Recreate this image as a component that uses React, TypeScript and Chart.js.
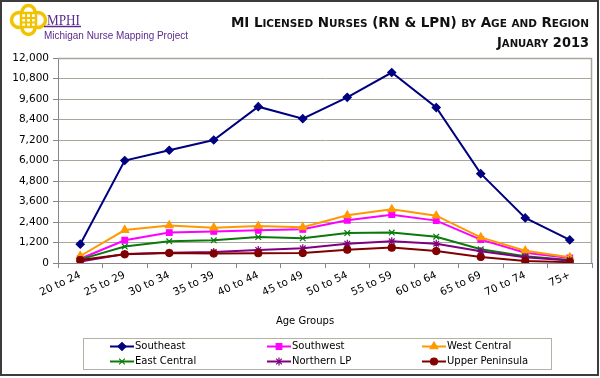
import React, { useEffect, useRef } from 'react';
import { Chart, registerables } from 'chart.js';
import { drawPoint } from 'chart.js/helpers';

Chart.register(...registerables);

const categories = ['20 to 24', '25 to 29', '30 to 34', '35 to 39', '40 to 44', '45 to 49', '50 to 54', '55 to 59', '60 to 64', '65 to 69', '70 to 74', '75+'];
const southeast = [1100, 6000, 6600, 7200, 9150, 8450, 9700, 11150, 9100, 5230, 2640, 1350];
const southwest = [250, 1330, 1780, 1850, 1910, 1970, 2500, 2830, 2480, 1370, 600, 290];
const westCentral = [410, 1930, 2200, 2070, 2160, 2090, 2790, 3140, 2770, 1500, 720, 330];
const eastCentral = [210, 960, 1270, 1330, 1520, 1450, 1750, 1780, 1540, 800, 390, 180];
const northernLP = [90, 530, 600, 650, 760, 860, 1130, 1270, 1130, 690, 330, 140];
const upperPeninsula = [170, 510, 580, 550, 570, 580, 780, 900, 700, 350, 120, 50];
const yTicks = [0, 1200, 2400, 3600, 4800, 6000, 7200, 8400, 9600, 10800, 12000];

const seriesNames = ['Southeast', 'Southwest', 'West Central', 'East Central', 'Northern LP', 'Upper Peninsula'];
const seriesData = [southeast, southwest, westCentral, eastCentral, northernLP, upperPeninsula];
const seriesColors = ['#000080', '#ff00ff', '#ff9900', '#0a7a0a', '#800080', '#800000'];
const seriesStyles = ['rectRot', 'rect', 'triangle', 'crossRot', 'star', 'circle'];
const seriesRadius = [4, 4, 4.5, 4, 4, 3.5];

const titleLine1 = 'MI Licensed Nurses (RN & LPN) by Age and Region';
const titleLine2 = 'January 2013';

const FONT = "'DejaVu Sans', Verdana, sans-serif";

const decorPlugin = {
  id: 'decor',
  beforeDatasetsDraw(chart: any) {
    const { ctx, chartArea: a } = chart;
    ctx.save();
    ctx.strokeStyle = '#a9a59b';
    ctx.lineWidth = 1.5;
    ctx.beginPath();
    ctx.moveTo(a.left, a.top + 0.5);
    ctx.lineTo(a.right - 0.5, a.top + 0.5);
    ctx.lineTo(a.right - 0.5, a.bottom);
    ctx.stroke();
    ctx.restore();
  },
  afterDraw(chart: any) {
    const { ctx } = chart;
    ctx.save();
    ctx.fillStyle = '#000';
    ctx.font = `10px ${FONT}`;
    ctx.textAlign = 'center';
    ctx.textBaseline = 'middle';
    ctx.fillText('Age Groups', 305, 321);
    ctx.strokeStyle = '#b5b1a6';
    ctx.lineWidth = 1;
    ctx.strokeRect(83.5, 338.5, 468, 31);
    const cols = [110, 267, 422];
    const rows = [346.5, 361.5];
    seriesNames.forEach((name, i) => {
      const x = cols[i % 3];
      const y = rows[Math.floor(i / 3)];
      ctx.strokeStyle = seriesColors[i];
      ctx.fillStyle = seriesColors[i];
      ctx.lineWidth = 2;
      ctx.beginPath();
      ctx.moveTo(x, y);
      ctx.lineTo(x + 24, y);
      ctx.stroke();
      ctx.lineWidth = 1.2;
      drawPoint(ctx, { pointStyle: seriesStyles[i], radius: seriesRadius[i], borderWidth: 1.2, rotation: 0 } as any, x + 12, y);
      ctx.fillStyle = '#000';
      ctx.font = `10px ${FONT}`;
      ctx.textAlign = 'left';
      ctx.textBaseline = 'middle';
      ctx.fillText(name, x + 25, y);
    });
    ctx.restore();
  },
};

function smallCapsSegments(text: string) {
  const segs: { t: string; big: boolean }[] = [];
  for (const ch of text) {
    const big = !(ch >= 'a' && ch <= 'z');
    const t = big ? ch : ch.toUpperCase();
    const last = segs[segs.length - 1];
    if (last && last.big === big) last.t += t;
    else segs.push({ t, big });
  }
  return segs;
}

function SmallCapsText({ text, x, y, width, big, small, adjust }: { text: string; x: number; y: number; width: number; big: number; small: number; adjust: string }) {
  const segs = smallCapsSegments(text);
  return (
    <text x={x} y={y} fontFamily={FONT} fontWeight="bold" fill="#111" textLength={width} lengthAdjust={adjust}>
      {segs.map((s, i) => (
        <tspan key={i} fontSize={s.big ? big : small}>{s.t}</tspan>
      ))}
    </text>
  );
}

function Header() {
  const purple = '#5b2a8c';
  const gold = '#f3c300';
  return (
    <svg width={600} height={52} style={{ position: 'absolute', left: 0, top: 0 }}>
      <g fill="none" stroke={gold} strokeWidth={3.5}>
        <circle cx={19} cy={20} r={7.5} />
        <circle cx={38} cy={20} r={7.5} />
        <circle cx={28.5} cy={12} r={6.5} />
        <circle cx={28.5} cy={28} r={6.5} />
      </g>
      <rect x={21} y={13} width={15} height={14} fill="#fff" stroke={gold} strokeWidth={2.5} />
      <g stroke={gold} strokeWidth={2}>
        <line x1={26} y1={13} x2={26} y2={27} />
        <line x1={31} y1={13} x2={31} y2={27} />
        <line x1={21} y1={18} x2={36} y2={18} />
        <line x1={21} y1={22.5} x2={36} y2={22.5} />
      </g>
      <text x={47} y={25} fill={purple} fontFamily="'Liberation Serif', serif" fontSize={14.5} textLength={33} lengthAdjust="spacingAndGlyphs">MPHI</text>
      <line x1={44} y1={26.5} x2={81} y2={26.5} stroke={purple} strokeWidth={1.3} />
      <text x={44} y={38.5} fill={purple} fontFamily="'Liberation Sans', sans-serif" fontSize={10.5} textLength={144} lengthAdjust="spacingAndGlyphs">Michigan Nurse Mapping Project</text>
      <SmallCapsText text={titleLine1} x={231} y={26.7} width={358} big={13.5} small={10.5} adjust="spacing" />
      <SmallCapsText text={titleLine2} x={497} y={47} width={92} big={13.5} small={10.5} adjust="spacingAndGlyphs" />
    </svg>
  );
}

export default function App() {
  const canvasRef = useRef<HTMLCanvasElement | null>(null);

  useEffect(() => {
    const canvas = canvasRef.current;
    if (!canvas) return;
    const datasets = seriesNames.map((name, i) => ({
      label: name,
      data: seriesData[i],
      borderColor: seriesColors[i],
      backgroundColor: seriesColors[i],
      pointBackgroundColor: seriesColors[i],
      pointBorderColor: seriesColors[i],
      pointStyle: seriesStyles[i],
      pointRadius: seriesRadius[i],
      pointBorderWidth: 1.2,
      borderWidth: 2,
      tension: 0,
      fill: false,
      order: seriesNames.length - i,
    }));
    const chart = new Chart(canvas, {
      type: 'line',
      data: { labels: categories, datasets },
      plugins: [decorPlugin],
      options: {
        responsive: false,
        animation: false,
        devicePixelRatio: 1,
        layout: { padding: { left: 0, right: 8, top: 58, bottom: 0 } },
        plugins: { legend: { display: false }, tooltip: { enabled: false }, title: { display: false } },
        scales: {
          x: {
            type: 'category',
            offset: true,
            grid: { offset: true, drawOnChartArea: false, drawTicks: true, tickLength: 5, color: '#868686' },
            border: { color: '#868686', width: 1 },
            ticks: {
              autoSkip: false,
              minRotation: 25,
              maxRotation: 25,
              padding: 1,
              color: '#000',
              font: { family: FONT, size: 10.5 },
            },
            afterFit: (s: any) => { s.height = 115; },
          },
          y: {
            min: 0,
            max: 12000,
            afterBuildTicks: (s: any) => { s.ticks = yTicks.map((v) => ({ value: v })); },
            grid: { color: '#aaa69b', tickColor: '#868686', tickLength: 5, lineWidth: 1 },
            border: { color: '#868686', width: 1 },
            ticks: {
              padding: 4,
              color: '#000',
              font: { family: FONT, size: 10.5 },
              callback: (v: any) => Number(v).toLocaleString('en-US'),
            },
            afterFit: (s: any) => { s.width = 58; },
          },
        },
      } as any,
    });
    return () => chart.destroy();
  }, []);

  return (
    <div style={{ position: 'fixed', left: 0, top: 0, width: 600, height: 378, background: '#fff', overflow: 'hidden' }}>
      <canvas ref={canvasRef} width={600} height={378} style={{ position: 'absolute', left: 0, top: 0, width: 600, height: 378 }} />
      <Header />
      <div
        style={{
          position: 'absolute',
          left: 0,
          top: 0,
          width: 599,
          height: 376,
          boxSizing: 'border-box',
          border: '2px solid #3c3c3c',
          pointerEvents: 'none',
        }}
      />
    </div>
  );
}
